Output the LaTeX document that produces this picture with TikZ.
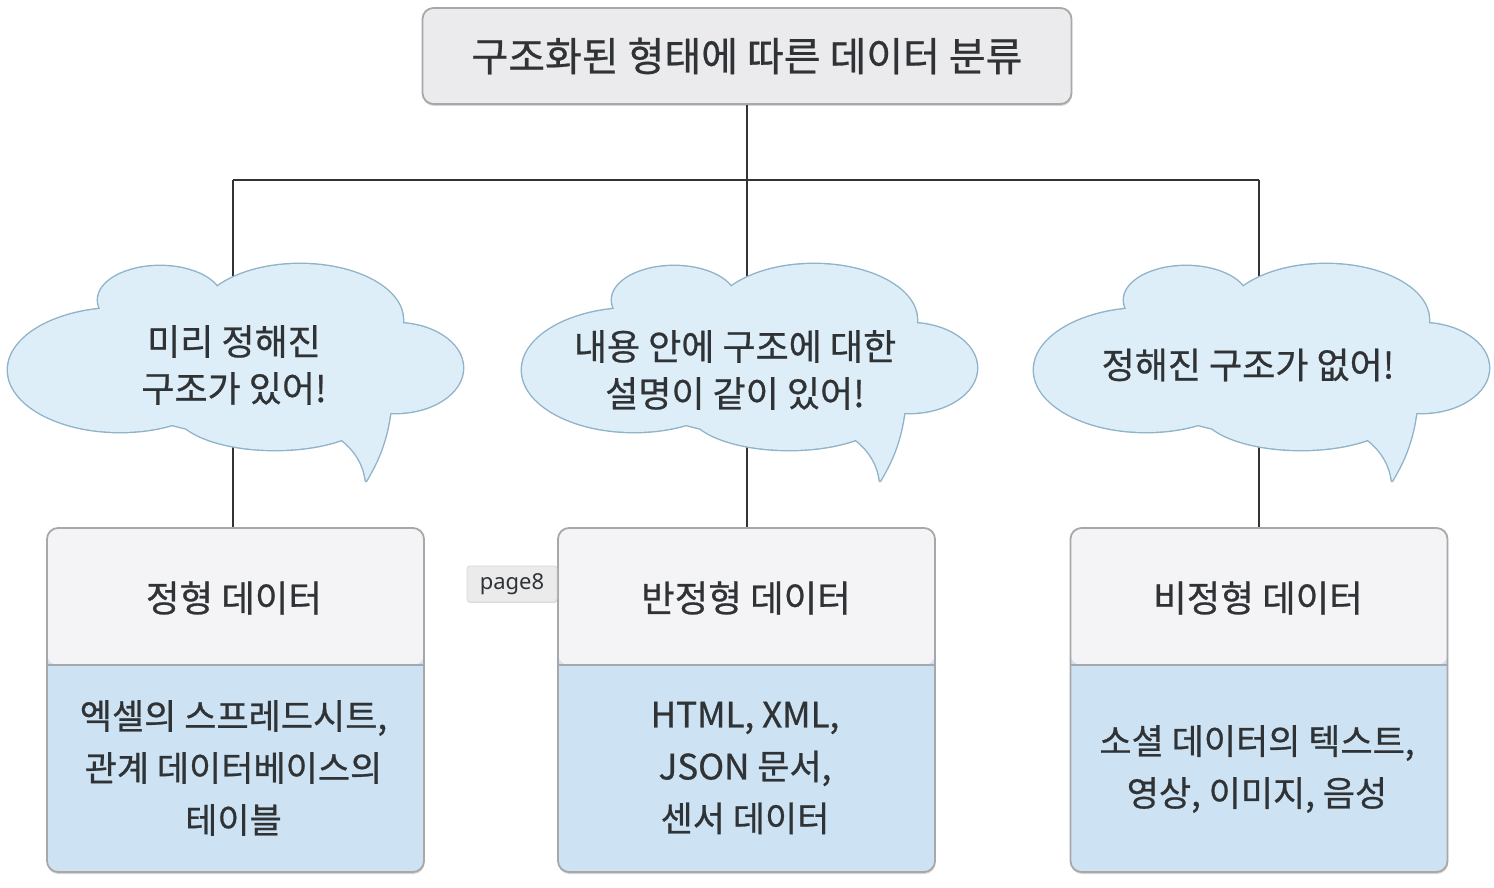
\documentclass[tikz,border=0pt]{standalone}
\usepackage{fontspec}
\newfontfamily\kr[FakeBold=0.7]{Noto Sans CJK KR}
\newfontfamily\pgfont{Noto Sans}
\usetikzlibrary{shadows}
\definecolor{txt}{HTML}{303336}
\definecolor{connc}{HTML}{333333}
\definecolor{boxline}{HTML}{A8A8AA}
\definecolor{titlefill}{HTML}{EBEBED}
\definecolor{hdrfill}{HTML}{F4F4F6}
\definecolor{bodyfill}{HTML}{CDE3F3}
\definecolor{cloudfill}{HTML}{DDEEF8}
\definecolor{cloudline}{HTML}{8FB3C9}
\definecolor{tagfill}{HTML}{EBEBEB}
\definecolor{tagline}{HTML}{D8D8D8}
\newcommand\cloudbody{(120,370) ellipse [x radius=112, y radius=62]
 (160,300) ellipse [x radius=62, y radius=34]
 (300,320) ellipse [x radius=103, y radius=56]
 (395,368) ellipse [x radius=68, y radius=45]
 (275,410) ellipse [x radius=100, y radius=40]
 (250,365) ellipse [x radius=150, y radius=70]}
\newcommand\cloudtail{(392,395) .. controls (389,440) and (377,462) .. (366,481) .. controls (364,466) and (357,452) .. (342,440) -- (330,430) -- (350,400) -- cycle}
\newcommand\drawcloud{%
  \draw[cloudline, line width=2.8pt] \cloudbody;
  \draw[cloudline, line width=2.8pt, line join=round] \cloudtail;
  \fill[cloudfill] \cloudbody;
  \fill[cloudfill] \cloudtail;}
\begin{document}
\begin{tikzpicture}[x=1pt,y=-1pt,
  conn/.style={draw=connc, line width=1.6pt},
  softshadow/.style={drop shadow={shadow xshift=0.5pt, shadow yshift=-2pt, opacity=0.16, fill=black}},
  titlebox/.style={draw=boxline, fill=titlefill, line width=1.8pt, rounded corners=11pt,
    minimum width=649pt, minimum height=96pt, softshadow,
    font=\kr\fontsize{40}{48}\selectfont, text=txt, inner sep=0pt},
  databox/.style={draw=boxline, fill=bodyfill, line width=1.8pt, rounded corners=11pt,
    minimum width=377pt, minimum height=344pt, softshadow, inner sep=0pt,
    path picture={
      \fill[hdrfill] (path picture bounding box.north west) rectangle ([yshift=-137pt]path picture bounding box.north east);
      \draw[boxline, line width=1.8pt] ([yshift=-137pt]path picture bounding box.north west) -- ([yshift=-137pt]path picture bounding box.north east);
    }},
  hdrtext/.style={font=\kr\fontsize{36.5}{44}\selectfont, text=txt, inner sep=0pt},
  bodytext/.style={font=\kr\fontsize{35}{52}\selectfont, text=txt, align=center, inner sep=0pt},
  cloudtext/.style={font=\kr\fontsize{36}{47}\selectfont, text=txt, align=center, inner sep=0pt},
  tag/.style={draw=tagline, fill=tagfill, line width=0.8pt, rounded corners=3pt, minimum width=90pt, minimum height=36pt,
    font=\pgfont\fontsize{22}{26}\selectfont, text=txt, inner sep=0pt,
    drop shadow={shadow xshift=0.5pt, shadow yshift=-1pt, opacity=0.12, fill=black}}
]
\useasboundingbox (0,0) rectangle (1494,888);
\fill[white] (0,0) rectangle (1494,888);

% title
\node[titlebox] (title) at (747,56) {구조화된 형태에 따른 데이터 분류};

% boxes
\node[databox] (box1) at (235.5,700) {};
\node[databox] (box2) at (746.5,700) {};
\node[databox] (box3) at (1259,700) {};

% junction coordinates
\coordinate (jm) at (747,180);
\coordinate (jl) at (233,180);
\coordinate (jr) at (1259,180);

% connectors
\draw[conn] (title.south) -- (jm);
\draw[conn] (jl) -- (jr);
\draw[conn] (jl) -- (jl |- box1.north);
\draw[conn] (jm) -- (jm |- box2.north);
\draw[conn] (jr) -- (jr |- box3.north);

% clouds
\begin{scope}\drawcloud\end{scope}
\begin{scope}[xshift=514pt]\drawcloud\end{scope}
\begin{scope}[xshift=1026pt]\drawcloud\end{scope}

\node[cloudtext] (c1) at (234,365) {미리 정해진\\구조가 있어!};
\node[cloudtext] (c2) at (735,370) {내용 안에 구조에 대한\\설명이 같이 있어!};
\node[cloudtext] (c3) at (1248,365) {정해진 구조가 없어!};

% headers
\node[hdrtext] (h1) at (234,598) {정형 데이터};
\node[hdrtext] (h2) at (746,598) {반정형 데이터};
\node[hdrtext] (h3) at (1258,598) {비정형 데이터};

% bodies
\node[bodytext] (d1) at (233.5,768) {엑셀의 스프레드시트,\\관계 데이터베이스의\\테이블};
\node[bodytext] (d2) at (745,768) {HTML, XML,\\JSON 문서,\\센서 데이터};
\node[bodytext] (d3) at (1257,769) {소셜 데이터의 텍스트,\\영상, 이미지, 음성};

% page tag
\node[tag] (pg) at (512,584) {page8};
\end{tikzpicture}
\end{document}
